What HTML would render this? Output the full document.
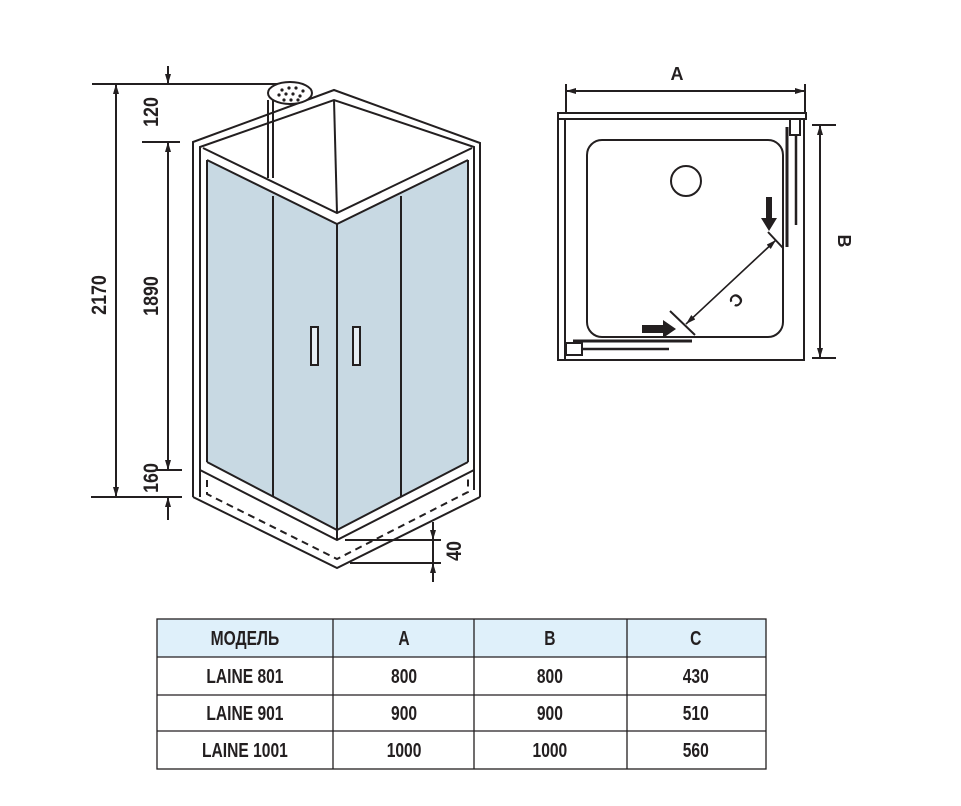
<!DOCTYPE html>
<html><head><meta charset="utf-8"><style>
html,body{margin:0;padding:0;background:#fff;width:961px;height:806px;overflow:hidden}
text{font-family:"Liberation Sans Narrow","Liberation Sans",sans-serif;font-weight:bold;fill:#231f20}
</style></head><body>
<svg width="961" height="806" viewBox="0 0 961 806" xmlns="http://www.w3.org/2000/svg">
<defs>
<marker id="ar" viewBox="0 0 10 10" refX="10" refY="5" markerWidth="10" markerHeight="10" markerUnits="userSpaceOnUse" orient="auto"><path d="M0,2 L10,5 L0,8 Z" fill="#231f20"/></marker>
</defs>
<g stroke="#231f20" fill="none" stroke-width="2">
<polygon points="207,160 337,224 337,530 207,462" fill="#c8d9e3" stroke="none"/>
<polygon points="337,224 468,160 468,462 337,530" fill="#c8d9e3" stroke="none"/>
<polyline points="193,497 193,142 334,90 480,143 480,497"/>
<polyline points="200,497 200,147 334,100 474,147 474,490"/>
<line x1="334" y1="100" x2="337" y2="213"/>
<polyline points="203,148 337,213 472,148"/>
<polyline points="207,160 337,224 468,160"/>
<line x1="207" y1="160" x2="207" y2="462"/>
<line x1="468" y1="160" x2="468" y2="462"/>
<line x1="337" y1="224" x2="337" y2="540"/>
<polyline points="207,462 337,530 468,462"/>
<polyline points="200,470 337,540 474,470"/>
<polyline points="193,497 337,568 480,497"/>
<polyline points="207,480 207,494 337,559 468,492 468,478" stroke-dasharray="7,5"/>
<line x1="273" y1="196" x2="273" y2="496"/>
<line x1="401" y1="196" x2="401" y2="496"/>
<rect x="311" y="327" width="7" height="38" fill="#e6eef3" stroke-width="2"/>
<rect x="353" y="327" width="7" height="38" fill="#e6eef3" stroke-width="2"/>
<line x1="268" y1="100" x2="268" y2="178"/>
<line x1="273" y1="100" x2="273" y2="178"/>
<ellipse cx="290" cy="93" rx="22" ry="11" fill="#fff"/>
<line x1="92" y1="84" x2="277" y2="84"/>
<line x1="91" y1="497" x2="182" y2="497"/>
<line x1="116" y1="84" x2="116" y2="497" marker-end="url(#ar)"/>
<line x1="116" y1="497" x2="116" y2="84" marker-end="url(#ar)"/>
<line x1="168" y1="66" x2="168" y2="84" marker-end="url(#ar)"/>
<line x1="142" y1="142" x2="180" y2="142"/>
<line x1="168" y1="142" x2="168" y2="470" marker-end="url(#ar)"/>
<line x1="168" y1="470" x2="168" y2="142" marker-end="url(#ar)"/>
<line x1="157" y1="470" x2="182" y2="470"/>
<line x1="168" y1="497" x2="168" y2="520"/>
<line x1="168" y1="520" x2="168" y2="497" marker-end="url(#ar)"/>
<line x1="345" y1="540" x2="441" y2="540"/>
<line x1="350" y1="563" x2="441" y2="563"/>
<line x1="433" y1="522" x2="433" y2="540" marker-end="url(#ar)"/>
<line x1="433" y1="582" x2="433" y2="563" marker-end="url(#ar)"/>
<line x1="433" y1="540" x2="433" y2="563"/>
<rect x="558" y="113" width="246" height="247"/>
<line x1="565" y1="119" x2="565" y2="360"/>
<rect x="558" y="113" width="248" height="6" fill="#fff"/>
<rect x="587" y="140" width="196" height="197" rx="15"/>
<circle cx="686" cy="181" r="15"/>
<rect x="790" y="119" width="10" height="16" fill="#fff"/>
<line x1="787" y1="127" x2="787" y2="247" stroke-width="3"/>
<line x1="796" y1="135" x2="796" y2="225" stroke-width="2.5"/>
<line x1="573" y1="341" x2="692" y2="341" stroke-width="3"/>
<line x1="583" y1="349" x2="669" y2="349" stroke-width="2.5"/>
<rect x="566" y="343" width="16" height="12" fill="#fff"/>
<line x1="566" y1="84" x2="566" y2="113"/>
<line x1="805" y1="84" x2="805" y2="113"/>
<line x1="566" y1="91" x2="805" y2="91" marker-end="url(#ar)"/>
<line x1="805" y1="91" x2="566" y2="91" marker-end="url(#ar)"/>
<line x1="812" y1="125" x2="836" y2="125"/>
<line x1="812" y1="358" x2="836" y2="358"/>
<line x1="820" y1="125" x2="820" y2="358" marker-end="url(#ar)"/>
<line x1="820" y1="358" x2="820" y2="125" marker-end="url(#ar)"/>
<line x1="670" y1="311" x2="695" y2="335"/>
<line x1="768" y1="232" x2="783" y2="248"/>
<line x1="686" y1="324" x2="776" y2="240" stroke-width="1.5" marker-end="url(#ar)"/>
<line x1="776" y1="240" x2="686" y2="324" stroke-width="1.5" marker-end="url(#ar)"/>
</g>
<g fill="#231f20">
<circle cx="282" cy="90" r="1.6"/><circle cx="289" cy="88" r="1.6"/><circle cx="296" cy="88" r="1.6"/><circle cx="303" cy="91" r="1.6"/>
<circle cx="279" cy="95" r="1.6"/><circle cx="286" cy="94" r="1.6"/><circle cx="293" cy="94" r="1.6"/><circle cx="300" cy="96" r="1.6"/>
<circle cx="284" cy="100" r="1.6"/><circle cx="291" cy="100" r="1.6"/><circle cx="298" cy="100" r="1.6"/>
<polygon points="766,197 772,197 772,218 777,218 769,231 761,218 766,218"/>
<polygon points="642,325 663,325 663,320 676,329 663,338 663,333 642,333"/>
</g>
<text font-size="21" text-anchor="middle" transform="translate(106,295) rotate(-90) scale(0.85,1)">2170</text>
<text font-size="21" text-anchor="middle" transform="translate(158,296) rotate(-90) scale(0.85,1)">1890</text>
<text font-size="21" text-anchor="middle" transform="translate(158,112) rotate(-90) scale(0.85,1)">120</text>
<text font-size="21" text-anchor="middle" transform="translate(158,478) rotate(-90) scale(0.85,1)">160</text>
<text font-size="21" text-anchor="middle" transform="translate(461,551) rotate(-90) scale(0.85,1)">40</text>
<text x="677" y="80" font-size="18" text-anchor="middle">A</text>
<text font-size="18" text-anchor="middle" transform="translate(838,241) rotate(90)">B</text>
<text font-size="17" text-anchor="middle" transform="translate(732,296) rotate(-45) rotate(180)">C</text>
<rect x="157" y="619" width="609" height="38" fill="#dff0fa"/>
<g stroke="#231f20" stroke-width="1.3" fill="none">
<rect x="157" y="619" width="609" height="150"/>
<line x1="157" y1="657" x2="766" y2="657"/>
<line x1="157" y1="695" x2="766" y2="695"/>
<line x1="157" y1="731" x2="766" y2="731"/>
<line x1="333" y1="619" x2="333" y2="769"/>
<line x1="474" y1="619" x2="474" y2="769"/>
<line x1="627" y1="619" x2="627" y2="769"/>
</g>
<g font-size="20" text-anchor="middle" transform="scale(0.78,1)">
<text x="314" y="645">МОДЕЛЬ</text><text x="518" y="645">A</text><text x="705" y="645">B</text><text x="892" y="645">C</text>
<text x="314" y="683">LAINE 801</text><text x="518" y="683">800</text><text x="705" y="683">800</text><text x="892" y="683">430</text>
<text x="314" y="720">LAINE 901</text><text x="518" y="720">900</text><text x="705" y="720">900</text><text x="892" y="720">510</text>
<text x="314" y="757">LAINE 1001</text><text x="518" y="757">1000</text><text x="705" y="757">1000</text><text x="892" y="757">560</text>
</g>
</svg>
</body></html>
